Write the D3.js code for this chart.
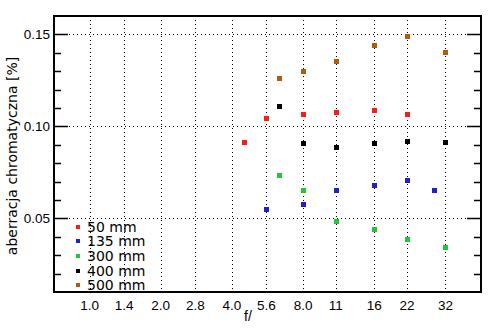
<!DOCTYPE html>
<html>
<head>
<meta charset="utf-8">
<script src="https://cdn.jsdelivr.net/npm/d3@7"></script>
<style>
  html, body { margin: 0; padding: 0; background: #fff; }
  svg { display: block; }
</style>
</head>
<body>
<svg id="chart" width="494" height="331"></svg>
<script>
// Aperture ticks (f-numbers) along the horizontal axis
const xTickValues = [1.0, 1.4, 2.0, 2.8, 4.0, 5.6, 8.0, 11, 16, 22, 32];
const xTickLabels = ["1.0", "1.4", "2.0", "2.8", "4.0", "5.6", "8.0", "11", "16", "22", "32"];
const yTickLabels = ["0.05", "0.10", "0.15"];
const yMajorTicks = [0.05, 0.10, 0.15];
const yMinorTicks = [0.02, 0.03, 0.04, 0.06, 0.07, 0.08, 0.09, 0.11, 0.12, 0.13, 0.14];

// Series: focal lengths and their colours
const seriesNames = ["50 mm", "135 mm", "300 mm", "400 mm", "500 mm"];
const seriesColors = ["#ff1a1a", "#1f1fd0", "#1ec83c", "#000000", "#b35a0c"];

// Aperture (f-number) and chromatic aberration [%] for each focal length
const f50 = [4.5, 5.6, 8.0, 11, 16, 22];
const v50 = [0.0913, 0.1043, 0.1065, 0.1076, 0.1087, 0.1065];
const f135 = [5.6, 8.0, 11, 16, 22, 28.5];
const v135 = [0.0553, 0.0580, 0.0656, 0.0683, 0.0710, 0.0656];
const f300 = [6.3, 8.0, 11, 16, 22, 32];
const v300 = [0.0738, 0.0656, 0.0488, 0.0444, 0.0390, 0.0346];
const f400 = [6.3, 8.0, 11, 16, 22, 32];
const v400 = [0.1109, 0.0908, 0.0886, 0.0908, 0.0918, 0.0913];
const f500 = [6.3, 8.0, 11, 16, 22, 32];
const v500 = [0.1261, 0.1299, 0.1353, 0.1440, 0.1489, 0.1402];

const seriesF = [f50, f135, f300, f400, f500];
const seriesV = [v50, v135, v300, v400, v500];

const svg = d3.select("#chart");
const plotLeft = 54, plotRight = 481, plotTop = 16, plotBottom = 292;

// f-stops are evenly spaced on a log scale (one stop = factor sqrt(2))
const x = d3.scaleLog()
  .domain([Math.SQRT1_2, Math.pow(Math.SQRT2, 11)])
  .range([plotLeft, plotRight]);
const y = d3.scaleLinear()
  .domain([0.01, 0.16])
  .range([plotBottom, plotTop]);

const tickFont = "'Liberation Sans', Arial, sans-serif";
const labelFont = "'DejaVu Sans', Verdana, sans-serif";

// Dotted grid
const grid = svg.append("g")
  .attr("stroke", "#000")
  .attr("stroke-width", 1)
  .attr("stroke-dasharray", "1,3");
grid.selectAll("line.v").data(xTickValues).enter().append("line")
  .attr("class", "v")
  .attr("x1", d => Math.round(x(d)) + 0.5)
  .attr("x2", d => Math.round(x(d)) + 0.5)
  .attr("y1", plotTop + 4)
  .attr("y2", plotBottom);
grid.selectAll("line.h").data(yMajorTicks).enter().append("line")
  .attr("class", "h")
  .attr("x1", plotLeft + 15)
  .attr("x2", plotRight - 15)
  .attr("y1", d => Math.round(y(d)) + 0.5)
  .attr("y2", d => Math.round(y(d)) + 0.5);

// Inward ticks on both vertical sides
const ticks = svg.append("g").attr("stroke", "#000").attr("stroke-width", 1.5);
[[plotLeft, 1], [plotRight, -1]].forEach(([x0, dir]) => {
  ticks.selectAll(null).data(yMajorTicks).enter().append("line")
    .attr("x1", x0).attr("x2", x0 + dir * 14)
    .attr("y1", d => Math.round(y(d)) + 0.5)
    .attr("y2", d => Math.round(y(d)) + 0.5);
  ticks.selectAll(null).data(yMinorTicks).enter().append("line")
    .attr("x1", x0).attr("x2", x0 + dir * 7)
    .attr("y1", d => Math.round(y(d)) + 0.5)
    .attr("y2", d => Math.round(y(d)) + 0.5);
});

// Frame
svg.append("rect")
  .attr("x", plotLeft).attr("y", plotTop)
  .attr("width", plotRight - plotLeft).attr("height", plotBottom - plotTop)
  .attr("fill", "none").attr("stroke", "#000").attr("stroke-width", 2);

// Tick labels
svg.append("g").selectAll("text").data(yMajorTicks).enter().append("text")
  .attr("x", 50)
  .attr("y", d => y(d) + 5)
  .attr("text-anchor", "end")
  .attr("font-family", tickFont)
  .attr("font-size", 13.5)
  .attr("fill", "#000")
  .text((d, i) => yTickLabels[i]);
svg.append("g").selectAll("text").data(xTickValues).enter().append("text")
  .attr("x", d => x(d))
  .attr("y", 310)
  .attr("text-anchor", "middle")
  .attr("font-family", tickFont)
  .attr("font-size", 13.5)
  .attr("fill", "#000")
  .text((d, i) => xTickLabels[i]);

// Axis titles
svg.append("text")
  .attr("x", 248).attr("y", 321)
  .attr("text-anchor", "middle")
  .attr("font-family", tickFont)
  .attr("font-size", 14)
  .text("f/");
svg.append("text")
  .attr("transform", "translate(17,156) rotate(-90)")
  .attr("text-anchor", "middle")
  .attr("font-family", labelFont)
  .attr("font-size", 14)
  .text("aberracja chromatyczna [%]");

// Data markers
const marks = svg.append("g");
seriesNames.forEach((name, s) => {
  const pts = seriesF[s].map((f, i) => ({ f: f, v: seriesV[s][i] }));
  marks.selectAll(null).data(pts).enter().append("rect")
    .attr("x", d => Math.round(x(d.f)) - 2)
    .attr("y", d => Math.round(y(d.v)) - 2)
    .attr("width", 5).attr("height", 5)
    .attr("fill", seriesColors[s]);
});

// Legend
const legend = svg.append("g");
seriesNames.forEach((name, i) => {
  const cy = Math.round(226.5 + i * 14.7);
  legend.append("rect")
    .attr("x", 76).attr("y", cy - 2)
    .attr("width", 4).attr("height", 4)
    .attr("fill", seriesColors[i]);
  legend.append("text")
    .attr("x", 87).attr("y", cy + 5)
    .attr("font-family", labelFont)
    .attr("font-size", 14)
    .attr("fill", "#000")
    .text(name);
});
</script>
</body>
</html>
